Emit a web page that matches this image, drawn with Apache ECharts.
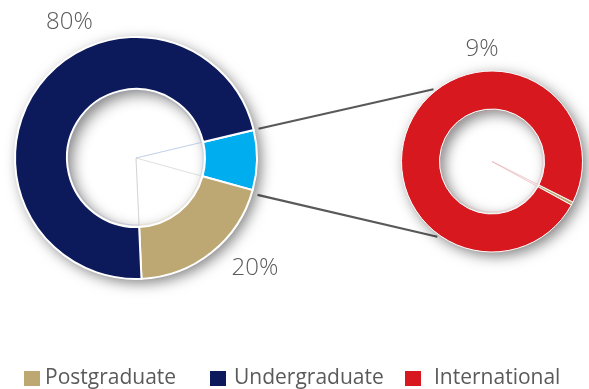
<!DOCTYPE html>
<html>
<head>
<meta charset="utf-8">
<script src="https://cdn.jsdelivr.net/npm/echarts@6/dist/echarts.min.js"></script>
<style>
  html, body { margin: 0; padding: 0; background: #fff; }
  #chart { width: 589px; height: 389px; }
</style>
</head>
<body>
<div id="chart"></div>
<script>
// Student mix: main ring and the exploded detail ring
const mainNames = ['International share', 'Postgraduate', 'Undergraduate'];
const mainValues = [8, 20, 72];
const mainColors = ['#00AEEF', '#BDA874', '#0C1A5B'];

const detailNames = ['Postgraduate', 'International'];
const detailValues = [0.6, 99.4];
const detailColors = ['#BDA874', '#D7191F'];

const legendNames = ['Postgraduate', 'Undergraduate', 'International'];
const legendColors = ['#BDA874', '#0C1A5B', '#D7191F'];
const ringLabels = ['80%', '20%', '9%'];

const TEXT = '#5a5a5a';
const FONT = '"Open Sans", "Noto Sans", sans-serif';

// ring geometry
const mainCenter = [136, 158], mainRadius = [69, 121];
const detailCenter = [492, 161.5], detailRadius = [52.5, 90.5];
const mainStart = 13.4;      // degrees, slices run clockwise
const detailStart = -26.6;

const chart = echarts.init(document.getElementById('chart'), null, { renderer: 'canvas' });

function ring(center, radius, names, values, colors, start, borderW) {
  return {
    type: 'pie', center: center, radius: radius, startAngle: start,
    clockwise: true, silent: true, animation: false, z: 3,
    label: { show: false }, labelLine: { show: false },
    emphasis: { disabled: true },
    itemStyle: { borderColor: '#fff', borderWidth: borderW },
    data: names.map((n, i) => ({ name: n, value: values[i], itemStyle: { color: colors[i] } }))
  };
}

// soft drop shadow under each ring (also shades the top-left of the hole)
function shadowRing(center, radius) {
  return {
    type: 'pie', center: center, radius: radius, silent: true, animation: false, z: 1,
    label: { show: false }, labelLine: { show: false }, emphasis: { disabled: true },
    legendHoverLink: false,
    itemStyle: {
      color: '#fff', shadowBlur: 14, shadowColor: 'rgba(0,0,0,0.5)',
      shadowOffsetX: 4, shadowOffsetY: 4
    },
    data: [{ name: '_base', value: 1 }]
  };
}

// shaded hole: white in the middle, greying toward the rim
function holeFill(center, r) {
  return {
    type: 'pie', center: center, radius: [0, r], silent: true, animation: false, z: 2,
    label: { show: false }, labelLine: { show: false }, emphasis: { disabled: true },
    legendHoverLink: false,
    itemStyle: {
      color: new echarts.graphic.RadialGradient(0.56, 0.56, 0.56, [
        { offset: 0, color: 'rgba(255,255,255,0)' },
        { offset: 0.7, color: 'rgba(255,255,255,0)' },
        { offset: 1, color: 'rgba(150,150,150,0.35)' }
      ])
    },
    data: [{ name: '_hole', value: 1 }]
  };
}

// faint slice outlines visible through the hole
function outlineRing(center, r, names, values, colors, start) {
  return {
    type: 'pie', center: center, radius: [0, r], startAngle: start,
    clockwise: true, silent: true, animation: false, z: 2,
    label: { show: false }, labelLine: { show: false }, emphasis: { disabled: true },
    legendHoverLink: false,
    data: names.map((n, i) => ({
      name: n, value: values[i],
      itemStyle: { color: 'rgba(255,255,255,0)', borderColor: colors[i], borderWidth: 0.8, opacity: 0.45 }
    }))
  };
}

function polar(center, r, deg) {
  const a = deg * Math.PI / 180;
  return [center[0] + r * Math.cos(a), center[1] - r * Math.sin(a)];
}

// connector lines from the exploded slice to the detail ring
const cyanSpan = mainValues[0] / mainValues.reduce((a, b) => a + b, 0) * 360;
const p1 = polar(mainCenter, mainRadius[1] + 5, mainStart);
const p2 = polar(mainCenter, mainRadius[1] + 6, mainStart - cyanSpan - 1.5);
const q1 = polar(detailCenter, detailRadius[1] + 2.5, 129);
const q2 = polar(detailCenter, detailRadius[1] + 2.5, -126);

function legendAt(i, left, pad) {
  return {
    data: [{ name: legendNames[i], itemStyle: { color: legendColors[i], borderWidth: 0, opacity: 1 } }],
    left: left, top: 368, padding: 0, orient: 'horizontal',
    icon: 'rect', itemWidth: 16, itemHeight: 15, selectedMode: false,
    textStyle: { fontFamily: FONT, fontSize: 21, color: TEXT, padding: [0, 0, 0, pad] }
  };
}

function label(text, x, y) {
  return {
    type: 'text', x: x, y: y, z: 10, silent: true,
    style: { text: text, fontFamily: FONT, fontSize: 24, fontWeight: 300, fill: TEXT,
             textAlign: 'center', textVerticalAlign: 'middle' }
  };
}

chart.setOption({
  backgroundColor: '#fff',
  animation: false,
  legend: [
    legendAt(0, 24, 0),
    legendAt(1, 210, 3),
    legendAt(2, 405, 8)
  ],
  graphic: [
    { type: 'line', z: 0, silent: true, shape: { x1: p1[0], y1: p1[1], x2: q1[0], y2: q1[1] },
      style: { stroke: '#595959', lineWidth: 2.2 } },
    { type: 'line', z: 0, silent: true, shape: { x1: p2[0], y1: p2[1], x2: q2[0], y2: q2[1] },
      style: { stroke: '#595959', lineWidth: 2.2 } },
    label(ringLabels[0], 69.5, 22.5),
    label(ringLabels[1], 255, 268),
    label(ringLabels[2], 482, 49.5)
  ],
  series: [
    ring(mainCenter, mainRadius, mainNames, mainValues, mainColors, mainStart, 2),
    shadowRing(mainCenter, mainRadius),
    holeFill(mainCenter, mainRadius[0]),
    outlineRing(mainCenter, mainRadius[0] - 2, mainNames, mainValues, ['#9fc8f0', '#e8cfa8', '#9aa0c8'], mainStart),
    ring(detailCenter, detailRadius, detailNames, detailValues, detailColors, detailStart, 1),
    shadowRing(detailCenter, detailRadius),
    holeFill(detailCenter, detailRadius[0]),
    outlineRing(detailCenter, detailRadius[0] - 2, detailNames, detailValues, ['#f0b0b8', '#e0a0a8'], detailStart)
  ]
});
</script>
</body>
</html>
